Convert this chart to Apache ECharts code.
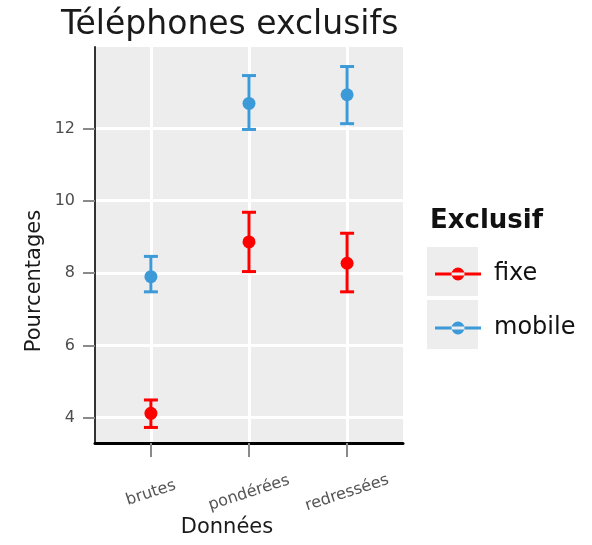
<!DOCTYPE html>
<html><head><meta charset="utf-8">
<script src="https://cdn.jsdelivr.net/npm/echarts@6/dist/echarts.min.js"></script>
<style>html,body{margin:0;padding:0;background:#fff}#c{width:592px;height:545px}</style>
</head><body><div id="c"></div>
<script>
const categories = ['brutes', 'pondérées', 'redressées'];
const fixeMean = [4.12, 8.86, 8.27];
const fixeLow = [3.73, 8.04, 7.48];
const fixeHigh = [4.49, 9.68, 9.10];
const mobileMean = [7.90, 12.69, 12.93];
const mobileLow = [7.48, 11.97, 12.13];
const mobileHigh = [8.46, 13.46, 13.71];
const yTicks = [4, 6, 8, 10, 12];
const xTicks = [1, 2, 3];

const FONT = 'DejaVu Sans';
const RED = '#ff0000';
const BLUE = '#3d9ad8';

function renderErr(params, api) {
  const x = api.value(0);
  const pM = api.coord([x, api.value(1)]);
  const pL = api.coord([x, api.value(2)]);
  const pH = api.coord([x, api.value(3)]);
  const color = api.visual('color');
  const hw = 7;
  const st = { stroke: color, lineWidth: 3 };
  return {
    type: 'group',
    children: [
      { type: 'line', shape: { x1: pL[0], y1: pL[1], x2: pH[0], y2: pH[1] }, style: st },
      { type: 'line', shape: { x1: pL[0] - hw, y1: pL[1], x2: pL[0] + hw, y2: pL[1] }, style: st },
      { type: 'line', shape: { x1: pH[0] - hw, y1: pH[1], x2: pH[0] + hw, y2: pH[1] }, style: st },
      { type: 'circle', shape: { cx: pM[0], cy: pM[1], r: 6.5 }, style: { fill: color } }
    ]
  };
}

function build(mean, low, high) {
  return categories.map((c, i) => [i + 1, mean[i], low[i], high[i]]);
}

const iconPath = 'path://M0,5.5 H46 V8.5 H0 Z M29.5,7 A6.5,6.5 0 1,0 16.5,7 A6.5,6.5 0 1,0 29.5,7 Z';

const chart = echarts.init(document.getElementById('c'));
chart.setOption({
  animation: false,
  backgroundColor: '#ffffff',
  title: [{
    text: 'Téléphones exclusifs',
    left: 56, top: 4,
    textStyle: { fontFamily: FONT, fontSize: 33, fontWeight: 'normal', color: '#1a1a1a' }
  }, {
    text: 'Exclusif',
    left: 425, top: 203,
    textStyle: { fontFamily: FONT, fontSize: 26, fontWeight: 'bold', color: '#111' }
  }],
  grid: {
    left: 95, right: 189, top: 47, bottom: 102,
    show: true, backgroundColor: '#ededed', borderWidth: 0
  },
  xAxis: {
    type: 'value', min: 0.43, max: 3.57,
    axisLine: { show: true, lineStyle: { color: '#000', width: 3 } },
    axisTick: { show: true, customValues: xTicks, length: 14, lineStyle: { color: '#8a8a8a', width: 2 } },
    axisLabel: {
      customValues: xTicks,
      formatter: v => categories[Math.round(v) - 1] || '',
      rotate: 18, align: 'center', verticalAlign: 'middle', margin: 50,
      fontFamily: FONT, fontSize: 16, color: '#555'
    },
    splitLine: { show: true, lineStyle: { color: '#ffffff', width: 3 } }
  },
  yAxis: {
    type: 'value', min: 3.3, max: 14.25,
    axisLine: { show: true, lineStyle: { color: '#333', width: 2 } },
    axisTick: { show: true, customValues: yTicks, length: 12, lineStyle: { color: '#8a8a8a', width: 2 } },
    axisLabel: {
      customValues: yTicks, margin: 20,
      fontFamily: FONT, fontSize: 16, color: '#4d4d4d'
    },
    splitLine: { show: true, lineStyle: { color: '#ffffff', width: 3 } }
  },
  legend: {
    orient: 'vertical', left: 430, top: 257,
    itemWidth: 46, itemHeight: 14, itemGap: 30,
    selectedMode: false,
    data: [{ name: 'fixe', icon: iconPath }, { name: 'mobile', icon: iconPath }],
    textStyle: { fontFamily: FONT, fontSize: 24, color: '#111', lineHeight: 24, padding: [0, 0, 0, 8] }
  },
  graphic: [
    { type: 'rect', z: 0, shape: { x: 427, y: 247, width: 51, height: 49 }, style: { fill: '#ededed' } },
    { type: 'rect', z: 0, shape: { x: 427, y: 300, width: 51, height: 49 }, style: { fill: '#ededed' } },
    { type: 'text', x: 35, y: 281, rotation: Math.PI / 2,
      style: { text: 'Pourcentages', fontFamily: FONT, fontSize: 21, fill: '#1a1a1a', align: 'center', verticalAlign: 'middle' } },
    { type: 'text', x: 227, y: 528,
      style: { text: 'Données', fontFamily: FONT, fontSize: 21, fill: '#1a1a1a', align: 'center', verticalAlign: 'middle' } }
  ],
  series: [
    { name: 'fixe', type: 'custom', renderItem: renderErr, itemStyle: { color: RED },
      encode: { x: 0, y: [1, 2, 3] }, data: build(fixeMean, fixeLow, fixeHigh), z: 5 },
    { name: 'mobile', type: 'custom', renderItem: renderErr, itemStyle: { color: BLUE },
      encode: { x: 0, y: [1, 2, 3] }, data: build(mobileMean, mobileLow, mobileHigh), z: 5 }
  ]
});
</script>
</body></html>
